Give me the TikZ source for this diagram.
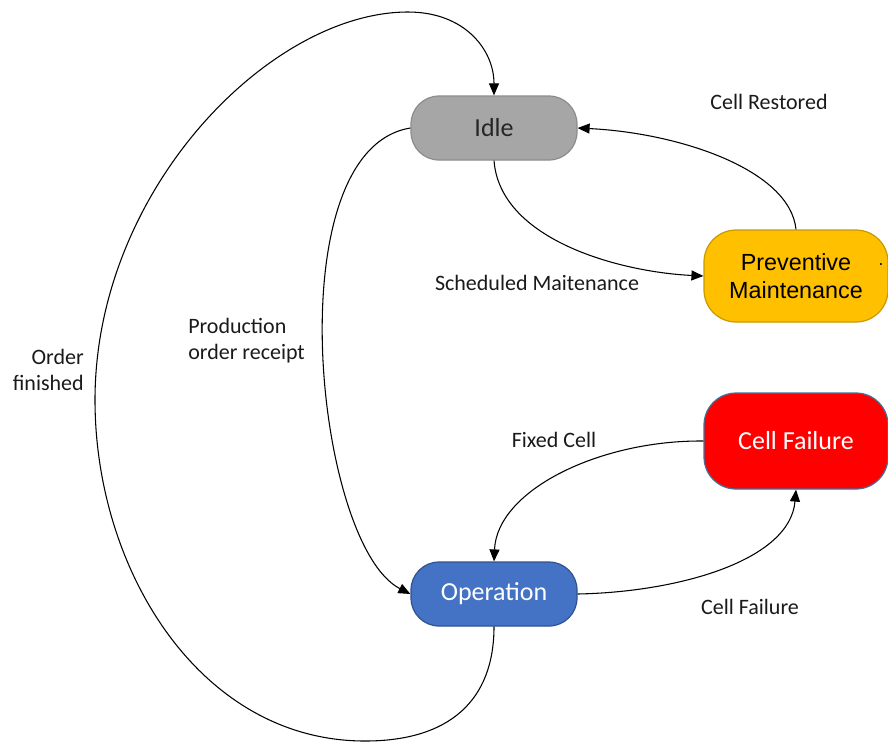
\documentclass[tikz,border=0pt]{standalone}
\usepackage{fontspec}
\setmainfont{Carlito}
\newfontfamily\arialfont{Liberation Sans}
\usetikzlibrary{arrows.meta}

\definecolor{idlefill}{HTML}{A6A6A6}
\definecolor{idleline}{HTML}{8C8C8C}
\definecolor{pmfill}{HTML}{FFC000}
\definecolor{pmline}{HTML}{C79A00}
\definecolor{cffill}{HTML}{FF0000}
\definecolor{cfline}{HTML}{41719C}
\definecolor{opfill}{HTML}{4472C4}
\definecolor{opline}{HTML}{2F528F}
\definecolor{labeltext}{HTML}{1A1A1A}

\tikzset{
  statebox/.style={draw, line width=0.9pt, inner sep=0pt, font=\fontsize{19.5}{23}\selectfont},
  smallstate/.style={statebox, minimum width=124.5pt, minimum height=48pt, rounded corners=21pt},
  bigstate/.style={statebox, minimum width=138pt, minimum height=72pt, rounded corners=24pt},
  edgelabel/.style={font=\fontsize{16.5}{19.5}\selectfont, text=labeltext, inner sep=0pt},
  flow/.style={draw=black, line width=0.8pt, -{Triangle[length=9pt,width=7.5pt]}}
}

\begin{document}
\begin{tikzpicture}[x=0.75pt, y=-0.75pt]
\useasboundingbox (0,0) rectangle (888,744);

% states
\node[smallstate, fill=idlefill, draw=idleline, text=black!85] (idle) at (494,128) {Idle};
\node[smallstate, fill=opfill, draw=opline, text=white] (op) at (494,594) {Operation};
\node[bigstate, fill=pmfill, draw=pmline, minimum height=69pt, align=center,
      font=\arialfont\fontsize{17.5}{21}\selectfont] (pm) at (796,276) {Preventive\\Maintenance};
\node[bigstate, fill=cffill, draw=cfline, text=white] (cf) at (796,441) {Cell Failure};
\node[edgelabel, font=\arialfont\fontsize{14}{16}\selectfont] (dot) at (881,264) {.};

% transitions
\draw[flow] (op.south) .. controls (494,700) and (450,741) .. (365,741)
  .. controls (200,741) and (95,570) .. (95,400)
  .. controls (95,190) and (270,12) .. (408,12)
  .. controls (465,12) and (494,50) .. (idle.north);
\draw[flow] (idle.west) .. controls (275,150) and (315,545) .. (op.west);
\draw[flow] (idle.south) .. controls (500,240) and (620,272) .. (pm.west);
\draw[flow] (pm.north) .. controls (790,170) and (680,133) .. (idle.east);
\draw[flow] (cf.west) .. controls (600,440) and (497,490) .. (op.north);
\draw[flow] (op.east) .. controls (680,592) and (790,560) .. (cf.south);

% transition labels
\node[edgelabel] (lrestored) at (769,102) {Cell Restored};
\node[edgelabel] (lsched) at (537,283) {Scheduled Maitenance};
\node[edgelabel, anchor=west, align=left] (lprod) at (188,341) {Production\\order receipt};
\node[edgelabel, anchor=east, align=right] (lorder) at (84,370) {Order\\finished};
\node[edgelabel] (lfixed) at (554,440) {Fixed Cell};
\node[edgelabel] (lfail) at (750,607) {Cell Failure};
\end{tikzpicture}
\end{document}
